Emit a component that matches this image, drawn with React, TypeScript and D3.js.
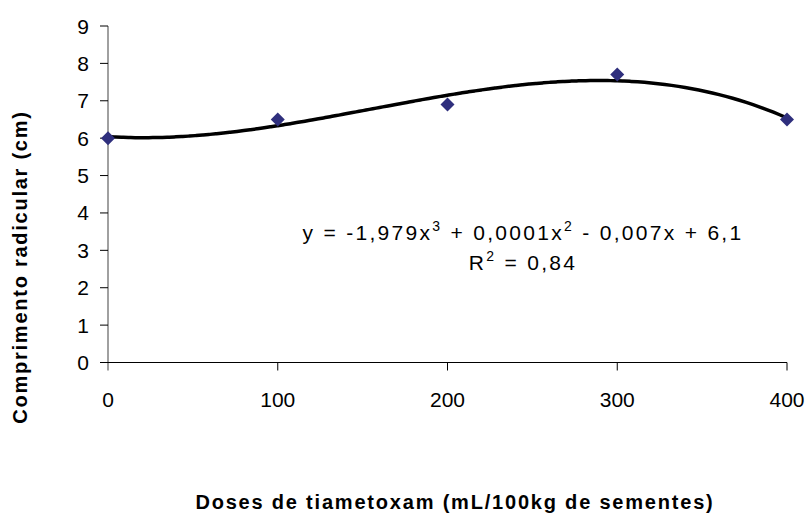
import React from "react";
import * as d3 from "d3";

const doses = [0, 100, 200, 300, 400];
const comprimento = [6.0, 6.5, 6.9, 7.7, 6.5];
const yTicks = [0, 1, 2, 3, 4, 5, 6, 7, 8, 9];
const xTicks = [0, 100, 200, 300, 400];
const equationMain = ["y = -1,979x", "3", " + 0,0001x", "2", " - 0,007x + 6,1"];
const r2Text = ["R", "2", " = 0,84"];
const xTitle = "Doses de tiametoxam (mL/100kg de sementes)";
const yTitle = "Comprimento radicular (cm)";

// least squares cubic fit (Excel polynomial trendline, order 3)
function cubicFit(xs: number[], ys: number[]) {
  const n = 4;
  const A: number[][] = [];
  for (let i = 0; i < n; i++) {
    A.push(new Array(n + 1).fill(0));
  }
  xs.forEach((xv, k) => {
    const t = xv / 100;
    for (let i = 0; i < n; i++) {
      for (let j = 0; j < n; j++) A[i][j] += Math.pow(t, i + j);
      A[i][n] += Math.pow(t, i) * ys[k];
    }
  });
  for (let c = 0; c < n; c++) {
    let p = c;
    for (let r = c + 1; r < n; r++) if (Math.abs(A[r][c]) > Math.abs(A[p][c])) p = r;
    [A[c], A[p]] = [A[p], A[c]];
    for (let r = 0; r < n; r++) {
      if (r === c) continue;
      const f = A[r][c] / A[c][c];
      for (let k = c; k <= n; k++) A[r][k] -= f * A[c][k];
    }
  }
  const coef = A.map((row, i) => row[n] / row[i]);
  return (xv: number) => {
    const t = xv / 100;
    return coef[0] + coef[1] * t + coef[2] * t * t + coef[3] * t * t * t;
  };
}

export default function App() {
  const W = 811, H = 513;
  const x = d3.scaleLinear().domain([0, 400]).range([108, 787]);
  const y = d3.scaleLinear().domain([0, 9]).range([362.5, 26]);
  const fit = cubicFit(doses, comprimento);
  const curvePts = d3.range(0, 401, 4).map((d) => [d, fit(d)] as [number, number]);
  const line = d3.line<[number, number]>().x((d) => x(d[0])).y((d) => y(d[1])).curve(d3.curveMonotoneX);
  const font = "Arial, 'Liberation Sans', sans-serif";
  const diamond = 7;
  return (
    <svg width={W} height={H} style={{ position: "absolute", left: 0, top: 0, background: "#fff" }} fontFamily={font}>
      <rect x={0} y={0} width={W} height={H} fill="#fff" />
      {/* y axis */}
      <line x1={x(0)} x2={x(0)} y1={y(9)} y2={y(0) + 8} stroke="#808080" strokeWidth={1.5} />
      {yTicks.map((t) => (
        <g key={"y" + t}>
          <line x1={x(0) - 8} x2={x(0)} y1={y(t)} y2={y(t)} stroke="#000" strokeWidth={1} />
          <text x={89} y={y(t) + 7.5} textAnchor="end" fontSize={21} fill="#000">{t}</text>
        </g>
      ))}
      {/* x axis */}
      <line x1={x(0) - 8} x2={x(400)} y1={y(0)} y2={y(0)} stroke="#000" strokeWidth={1} />
      {xTicks.map((t) => (
        <g key={"x" + t}>
          {t > 0 && <line x1={x(t)} x2={x(t)} y1={y(0)} y2={y(0) + 8} stroke="#000" strokeWidth={1} />}
          <text x={x(t)} y={407} textAnchor="middle" fontSize={21} fill="#000">{t}</text>
        </g>
      ))}
      {/* trend line */}
      <path d={line(curvePts) || ""} fill="none" stroke="#000" strokeWidth={3.5} strokeLinejoin="round" />
      {/* points */}
      {doses.map((d, i) => {
        const cx = x(d), cy = y(comprimento[i]);
        return (
          <path key={"p" + i}
            d={`M${cx},${cy - diamond}L${cx + diamond},${cy}L${cx},${cy + diamond}L${cx - diamond},${cy}Z`}
            fill="#2F2F7D" />
        );
      })}
      {/* equation */}
      <text x={523} y={240} textAnchor="middle" fontSize={21} letterSpacing={2.3} fill="#000">
        <tspan>{equationMain[0]}</tspan>
        <tspan dy={-9} fontSize={14}>{equationMain[1]}</tspan>
        <tspan dy={9}>{equationMain[2]}</tspan>
        <tspan dy={-9} fontSize={14}>{equationMain[3]}</tspan>
        <tspan dy={9}>{equationMain[4]}</tspan>
      </text>
      <text x={523} y={270} textAnchor="middle" fontSize={21} letterSpacing={2.3} fill="#000">
        <tspan>{r2Text[0]}</tspan>
        <tspan dy={-9} fontSize={14}>{r2Text[1]}</tspan>
        <tspan dy={9}>{r2Text[2]}</tspan>
      </text>
      {/* axis titles */}
      <text x={455} y={509} textAnchor="middle" fontSize={20} fontWeight="bold" letterSpacing={1.8} fill="#000">{xTitle}</text>
      <text transform={`translate(27,267) rotate(-90)`} textAnchor="middle" fontSize={20} fontWeight="bold" letterSpacing={1.75} fill="#000">{yTitle}</text>
    </svg>
  );
}
